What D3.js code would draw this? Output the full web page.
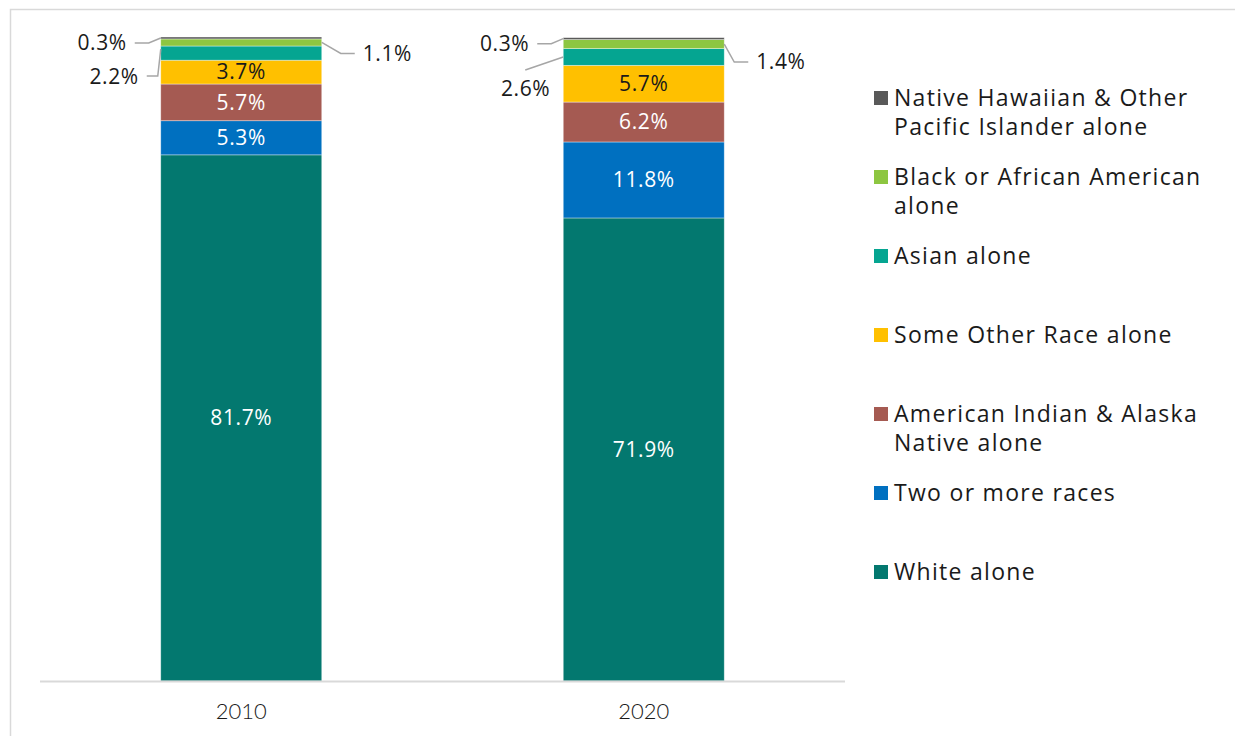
<!DOCTYPE html>
<html lang="en">
  <head>
    <meta charset="UTF-8" />
    <title>Race composition, 2010 vs 2020</title>
    <script src="https://d3js.org/d3.v7.min.js"></script>
    <style>
      body {
        margin: 0;
        background: #fff;
      }
      .lbl {
        font-family: "Open Sans", sans-serif;
        font-size: 21px;
        letter-spacing: 0.6px;
      }
      .legend text {
        font-family: "Open Sans", sans-serif;
        font-size: 23px;
        letter-spacing: 1.3px;
        fill: #1a1a1a;
      }
      .x-axis text {
        font-family: Lato, sans-serif;
        font-size: 22px;
        font-weight: 300;
        fill: #1a1a1a;
      }
      .leader {
        fill: none;
        stroke: #a6a6a6;
        stroke-width: 1.5px;
      }
    </style>
  </head>
  <body>
    <svg width="1235" height="736"></svg>

    <script>
      // data, stacked bottom -> top
      const years = ["2010", "2020"];
      const categories = [
        "White alone",
        "Two or more races",
        "American Indian & Alaska Native alone",
        "Some Other Race alone",
        "Asian alone",
        "Black or African American alone",
        "Native Hawaiian & Other Pacific Islander alone",
      ];
      const values2010 = [81.7, 5.3, 5.7, 3.7, 2.2, 1.1, 0.3];
      const values2020 = [71.9, 11.8, 6.2, 5.7, 2.6, 1.4, 0.3];
      const colors = ["#03786f", "#0070c0", "#a55a52", "#ffc000", "#05a591", "#8dc641", "#595959"];
      const legendLines = [
        ["White alone"],
        ["Two or more races"],
        ["American Indian & Alaska", "Native alone"],
        ["Some Other Race alone"],
        ["Asian alone"],
        ["Black or African American", "alone"],
        ["Native Hawaiian & Other", "Pacific Islander alone"],
      ];

      const svg = d3.select("svg");

      // outer frame of the chart area
      svg.append("rect")
        .attr("x", 10.5).attr("y", 9.5)
        .attr("width", 1240).attr("height", 760)
        .attr("fill", "none").attr("stroke", "#d9d9d9").attr("stroke-width", 1.5);

      const x = d3.scaleBand().domain(years).range([40, 845]).paddingInner(0.6).paddingOuter(0.3);
      const y = d3.scaleLinear().domain([0, 100]).range([681, 37]);

      const table = years.map((yr, i) => {
        const vals = i === 0 ? values2010 : values2020;
        const row = { year: yr };
        categories.forEach((c, j) => (row[c] = vals[j]));
        return row;
      });
      const series = d3.stack().keys(categories)(table);

      const layers = svg.append("g")
        .selectAll("g")
        .data(series)
        .join("g")
        .attr("fill", (d, i) => colors[i]);

      layers.selectAll("rect")
        .data((d) => d.map((p) => Object.assign(p, { key: d.key })))
        .join("rect")
        .attr("x", (d) => x(d.data.year))
        .attr("width", x.bandwidth())
        .attr("y", (d) => y(d[1]))
        .attr("height", (d) => y(d[0]) - y(d[1]))
        .attr("stroke", "#ffffff")
        .attr("stroke-opacity", 0.5)
        .attr("stroke-width", 0.75);

      // axis baseline + year labels
      svg.append("line")
        .attr("x1", 40).attr("x2", 845)
        .attr("y1", 681.5).attr("y2", 681.5)
        .attr("stroke", "#d9d9d9").attr("stroke-width", 2);

      const xAxis = svg.append("g")
        .attr("class", "x-axis")
        .attr("transform", "translate(0,681)")
        .call(d3.axisBottom(x).tickSize(0).tickPadding(22));
      xAxis.select(".domain").remove();

      // labels inside big segments
      const inside = [];
      series.forEach((s, i) => {
        s.forEach((p) => {
          const v = p[1] - p[0];
          if (v >= 3.5) inside.push({ p, i, v });
        });
      });
      svg.append("g")
        .selectAll("text")
        .data(inside)
        .join("text")
        .attr("class", "lbl")
        .attr("x", (d) => x(d.p.data.year) + x.bandwidth() / 2)
        .attr("y", (d) => y((d.p[0] + d.p[1]) / 2))
        .attr("dy", "0.35em")
        .attr("text-anchor", "middle")
        .attr("fill", (d) => (d.i === 3 ? "#1a1a1a" : "#ffffff"))
        .text((d) => d3.format(".1f")(d.v) + "%");

      // small segments labelled outside with leader lines
      function mid(yi, ci) {
        const p = series[ci][yi];
        return y((p[0] + p[1]) / 2);
      }
      const topOf = (yi) => y(d3.sum(series.map((s) => s[yi][1] - s[yi][0])));

      const outside = [];
      years.forEach((yr, yi) => {
        const x0 = x(yr), x1 = x0 + x.bandwidth();
        const vals = yi === 0 ? values2010 : values2020;
        const t = topOf(yi);
        // NHPI, left
        outside.push({
          text: vals[6].toFixed(1) + "%", tx: x0 - 34, ty: t + 6, anchor: "end",
          pts: [[x0, t + 1], [x0 - 12, t + 6], [x0 - 26, t + 6]],
        });
        // Black, right
        const mb = mid(yi, 5);
        const drop = yi === 0 ? 11 : 18;
        const run = yi === 0 ? 19 : 10;
        outside.push({
          text: vals[5].toFixed(1) + "%", tx: x1 + run + 22, ty: mb + drop, anchor: "start",
          pts: [[x1, mb], [x1 + run, mb + drop], [x1 + run + 14, mb + drop]],
        });
        // Asian, left
        const ma = mid(yi, 4);
        if (yi === 0) {
          outside.push({
            text: vals[4].toFixed(1) + "%", tx: x0 - 22, ty: ma + 24, anchor: "end",
            pts: [[x0, ma - 4], [x0 - 3, ma + 23], [x0 - 14, ma + 23]],
          });
        } else {
          outside.push({
            text: vals[4].toFixed(1) + "%", tx: x0 - 13, ty: ma + 32, anchor: "end",
            pts: [[x0, ma], [x0 - 38, ma + 13]],
          });
        }
      });

      const ext = svg.append("g");
      ext.selectAll("path")
        .data(outside)
        .join("path")
        .attr("class", "leader")
        .attr("d", (d) => d3.line()(d.pts));
      ext.selectAll("text")
        .data(outside)
        .join("text")
        .attr("class", "lbl")
        .attr("x", (d) => d.tx)
        .attr("y", (d) => d.ty)
        .attr("dy", "0.35em")
        .attr("text-anchor", (d) => d.anchor)
        .attr("fill", "#1a1a1a")
        .text((d) => d.text);

      // legend, top entry = top of stack
      const legendOrder = d3.range(categories.length).reverse();
      const legend = svg.append("g").attr("class", "legend");
      const item = legend.selectAll("g")
        .data(legendOrder)
        .join("g")
        .attr("transform", (d, k) => `translate(874,${98 + k * 79})`);
      item.append("rect")
        .attr("x", 0).attr("y", -7)
        .attr("width", 14).attr("height", 14)
        .attr("fill", (i) => colors[i]);
      item.append("text")
        .attr("x", 20)
        .selectAll("tspan")
        .data((i) => legendLines[i])
        .join("tspan")
        .attr("x", 20)
        .attr("y", (d, k) => k * 29)
        .attr("dy", "0.35em")
        .text((d) => d);
    </script>
  </body>
</html>
